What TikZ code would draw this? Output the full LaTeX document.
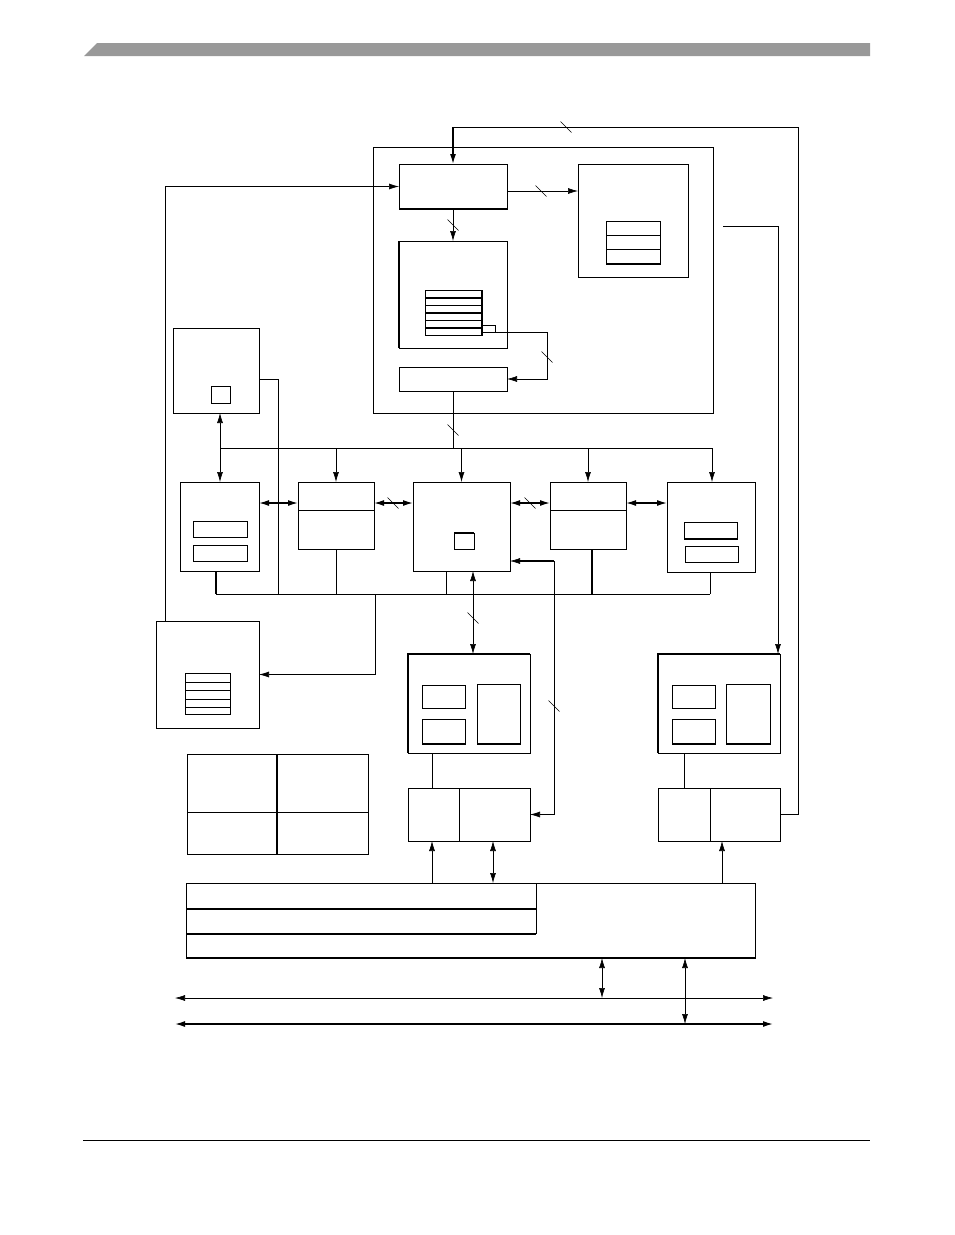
\documentclass[tikz,border=0pt]{standalone}
\usepackage{xcolor}
\usepackage{tikz}
\usetikzlibrary{arrows.meta,positioning,calc}
\definecolor{hdrgray}{RGB}{153,153,153}

\begin{document}
\begin{tikzpicture}[
    x=1pt, y=-1pt,
    blk/.style={draw, line width=0.6pt, anchor=north west, inner sep=0pt, outer sep=0pt},
    thk/.style={line width=1.4pt},
    ln/.style={line width=0.6pt},
    arr/.style={-{Latex[length=10pt,width=6pt]}, line width=0.6pt},
    darr/.style={{Latex[length=10pt,width=6pt]}-{Latex[length=10pt,width=6pt]}, line width=0.6pt},
    busmark/.pic={\draw[line width=0.5pt] (-5.5,-5.5) -- (5.5,5.5);}
]
\useasboundingbox (0,0) rectangle (954,1235);

% page header and footer
\fill[hdrgray] (84,56) -- (97,43) -- (870,43) -- (870,56) -- cycle;
\draw[line width=1pt] (83,1140) -- (870,1140);

% Top block
\node[blk, minimum width=340pt, minimum height=266pt] (topblk) at (373,147) {};
\node[blk, minimum width=108pt, minimum height=45pt] (ctrl) at (399,164) {};
\node[blk, minimum width=110pt, minimum height=113pt] (cfg) at (578,164) {};
\node[blk, minimum width=54pt, minimum height=43pt] (cfgtab) at (606,221) {};
\node[blk, minimum width=108pt, minimum height=107pt] (mem) at (399,241) {};
\node[blk, minimum width=57pt, minimum height=45pt] (memtab) at (425,290) {};
\node[blk, minimum width=13pt, minimum height=7pt] (memtag) at (482,325) {};
\node[blk, minimum width=108pt, minimum height=24pt] (outreg) at (399,367) {};
\draw[thk] (ctrl.south west) -- (ctrl.south east);
\draw[thk] (mem.north west) -- (mem.south west);
\draw[thk] (cfgtab.south west) -- (cfgtab.south east);
\draw[thk] (memtab.north east) -- (memtab.south east);
\foreach \y in {235,249} \draw[ln] (606,\y) -- (661,\y);
\foreach \y in {305,320} \draw[ln] (425,\y) -- (482,\y);
\foreach \y in {298,313,328} \draw[thk] (425,\y) -- (482,\y);

% Left column and bus row
\node[blk, minimum width=86pt, minimum height=85pt] (lbox) at (173,328) {};
\node[blk, minimum width=19pt, minimum height=17pt] (lsq) at (211,386) {};
\node[blk, minimum width=79pt, minimum height=89pt] (portl) at (180,482) {};
\node[blk, minimum width=54pt, minimum height=16pt] (portla) at (193,521) {};
\node[blk, minimum width=54pt, minimum height=16pt] (portlb) at (193,545) {};
\node[blk, minimum width=76pt, minimum height=67pt] (brgl) at (298,482) {};
\node[blk, minimum width=97pt, minimum height=89pt] (core) at (413,482) {};
\node[blk, minimum width=20pt, minimum height=16pt] (coresq) at (454,533) {};
\node[blk, minimum width=76pt, minimum height=67pt] (brgr) at (550,482) {};
\node[blk, minimum width=88pt, minimum height=90pt] (portr) at (667,482) {};
\node[blk, minimum width=53pt, minimum height=17pt] (portra) at (684,522) {};
\node[blk, minimum width=53pt, minimum height=16pt] (portrb) at (685,546) {};
\draw[ln] (298,510) -- (374,510);
\draw[ln] (550,510) -- (626,510);
\draw[thk] (coresq.north west) -- (coresq.north east);
\draw[thk] (portra.south west) -- (portra.south east);

% Lower blocks
\node[blk, minimum width=103pt, minimum height=107pt] (nbox) at (156,621) {};
\node[blk, minimum width=45pt, minimum height=41pt] (ntab) at (185,673) {};
\foreach \y in {682,690,699,707} \draw[ln] (185,\y) -- (230,\y);
\node[blk, minimum width=181pt, minimum height=100pt] (key) at (187,754) {};
\draw[thk] (277,754) -- (277,854);
\draw[ln] (187,812) -- (368,812);

\node[blk, minimum width=122pt, minimum height=99pt] (pa) at (408,654) {};
\node[blk, minimum width=43pt, minimum height=23pt] (paa) at (422,685) {};
\node[blk, minimum width=43pt, minimum height=25pt] (pab) at (422,719) {};
\node[blk, minimum width=43pt, minimum height=60pt] (pac) at (477,684) {};
\node[blk, minimum width=122pt, minimum height=53pt] (pb) at (408,788) {};
\draw[ln] (459,788) -- (459,841);
\draw[thk] (pa.south west) -- (pa.north west) -- (pa.north east);
\draw[thk] (pab.south west) -- (pab.south east);
\draw[thk] (pac.south west) -- (pac.south east);

\node[blk, minimum width=122pt, minimum height=99pt] (ra) at (658,654) {};
\node[blk, minimum width=43pt, minimum height=23pt] (raa) at (672,685) {};
\node[blk, minimum width=43pt, minimum height=25pt] (rab) at (672,719) {};
\node[blk, minimum width=44pt, minimum height=60pt] (rac) at (726,684) {};
\node[blk, minimum width=122pt, minimum height=53pt] (rb) at (658,788) {};
\draw[ln] (710,788) -- (710,841);
\draw[thk] (ra.south west) -- (ra.north west) -- (ra.north east);
\draw[thk] (rab.south west) -- (rab.south east);
\draw[thk] (rac.south west) -- (rac.south east);

\node[blk, minimum width=569pt, minimum height=75pt] (base) at (186,883) {};
\draw[thk] (base.south west) -- (base.south east);
\draw[thk] (186,909) -- (536,909);
\draw[thk] (186,934) -- (536,934);
\draw[ln] (536,883) -- (536,934);

% Coordinates
\coordinate (fbtop) at (798,127);
\coordinate (lnin) at (165,621);
\coordinate (c1) at (507,191);
\coordinate (mtr) at (547,332);
\coordinate (busup) at (453,448);
\coordinate (rin) at (723,226);
\coordinate (rinb) at (778,654);
\coordinate (busl) at (220,448);
\coordinate (busr) at (712,448);
\coordinate (rowy) at (0,503);
\coordinate (lbl) at (216,594);
\coordinate (lbr) at (710,594);
\coordinate (lbo) at (259,379);
\coordinate (ldrop) at (278,594);
\coordinate (cdrop) at (446,594);
\coordinate (rdrop) at (592,594);
\coordinate (ndrop) at (375,594);
\coordinate (cx) at (473,600);
\coordinate (crin) at (510,561);
\coordinate (crc) at (554,561);
\coordinate (pax) at (432,0);
\coordinate (pbx) at (493,0);
\coordinate (rbx) at (684,0);
\coordinate (rbin) at (722,0);
\coordinate (bax) at (602,0);
\coordinate (bbx) at (685,0);
\coordinate (bal) at (175,998);
\coordinate (bar) at (773,998);
\coordinate (bbl) at (175,1024);
\coordinate (bbr) at (773,1024);

% Connections
\draw[ln] (rb.east) -| (fbtop) -| (ctrl.north |- 0,150);
\draw[arr, thk] (ctrl.north |- fbtop) -- (ctrl.north);
\pic at (566,127) {busmark};
\draw[arr] (lnin) |- (ctrl.west);
\draw[arr] (c1) -- (c1 -| cfg.west);
\pic at (541,191) {busmark};
\draw[arr] (ctrl.south) -- (mem.north);
\pic at (453,225) {busmark};
\draw[arr] (memtag.south east) -- (mtr) |- (outreg.east);
\pic at (547,357) {busmark};
\draw[ln] (outreg.south) -- (busup);
\pic at (453,430) {busmark};
\draw[arr] (rin) -| (rinb);

\draw[ln] (busl) -- (busr);
\draw[arr] (busl) -- (lbox.south -| busl);
\draw[arr] (busl) -- (portl.north -| busl);
\foreach \n in {brgl,core,brgr} \draw[arr] (\n.north |- busl) -- (\n.north);
\draw[arr] (busr) -- (portr.north -| busr);

\draw[darr, thk] (portl.east |- rowy) -- (brgl.west |- rowy);
\draw[darr, thk] (brgl.east |- rowy) -- (core.west |- rowy);
\draw[darr, thk] (core.east |- rowy) -- (brgr.west |- rowy);
\draw[darr, thk] (brgr.east |- rowy) -- (portr.west |- rowy);
\pic at (393,503) {busmark};
\pic at (530,503) {busmark};

\draw[ln] (lbl) -- (lbr);
\draw[thk] (portl.south -| lbl) -- (lbl);
\draw[ln] (lbo) -| (ldrop);
\draw[ln] (brgl.south) -- (brgl.south |- lbl);
\draw[ln] (core.south -| cdrop) -- (cdrop);
\draw[thk] (brgr.south -| rdrop) -- (rdrop);
\draw[ln] (portr.south -| lbr) -- (lbr);
\draw[arr] (ndrop) |- (nbox.east);

\draw[darr] (core.south -| cx) -- (pa.north -| cx);
\pic at (473,618) {busmark};
\draw[darr] (crin) -- (crc) |- (pb.east);
\draw[thk] (crin) ++(6,0) -- (crc);
\pic at (554,706) {busmark};

\draw[ln] (pa.south -| pax) -- (pb.north -| pax);
\draw[ln] (ra.south -| rbx) -- (rb.north -| rbx);
\draw[arr] (base.north -| pax) -- (pb.south -| pax);
\draw[darr] (pb.south -| pbx) -- (base.north -| pbx);
\draw[arr] (base.north -| rbin) -- (rb.south -| rbin);

\draw[darr] (bal) -- (bar);
\draw[darr, thk] (bbl) -- (bbr);
\draw[darr] (base.south -| bax) -- (bal -| bax);
\draw[darr] (base.south -| bbx) -- (bbl -| bbx);

\end{tikzpicture}
\end{document}
